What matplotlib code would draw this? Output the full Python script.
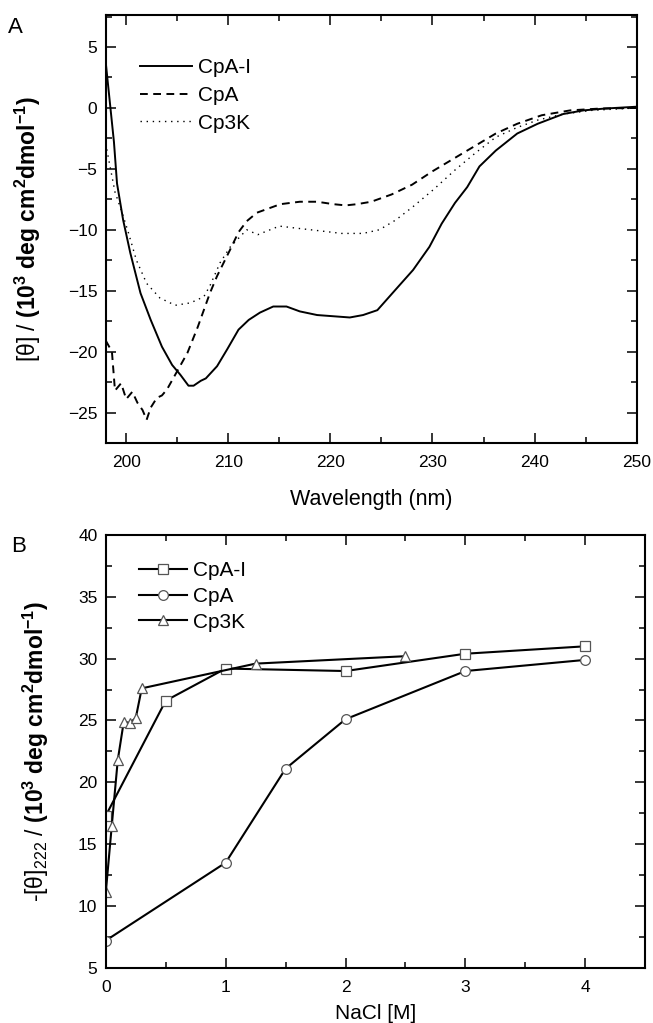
import numpy as np
import matplotlib
matplotlib.use("Agg")
import matplotlib.pyplot as plt
from matplotlib.ticker import MultipleLocator

plt.rcParams['font.family'] = ['Liberation Sans', 'DejaVu Sans']
plt.rcParams['mathtext.fontset'] = 'custom'
plt.rcParams['mathtext.rm'] = 'Liberation Sans'
plt.rcParams['mathtext.it'] = 'Liberation Sans:italic'
plt.rcParams['mathtext.bf'] = 'Liberation Sans:bold'

# ---- panel A: CD spectra ----
wl_cpai = [198.0, 198.8, 199.1, 199.7, 200.4, 201.4, 202.4, 203.5, 204.5, 205.3, 206.1,
           206.6, 207.3, 207.8, 208.9, 209.9, 211.0, 212.0, 213.1, 214.4, 215.7, 217.0,
           218.7, 220.3, 221.9, 223.2, 224.6, 226.4, 228.1, 229.7, 230.9, 232.2, 233.4,
           234.6, 236.2, 238.3, 240.3, 242.8, 244.8, 246.9, 250.0]
th_cpai = [3.7, -2.8, -6.2, -9.2, -11.9, -15.2, -17.4, -19.6, -21.1, -21.9, -22.8,
           -22.8, -22.4, -22.2, -21.2, -19.8, -18.2, -17.4, -16.8, -16.3, -16.3, -16.7,
           -17.0, -17.1, -17.2, -17.0, -16.6, -14.9, -13.3, -11.4, -9.5, -7.8, -6.5,
           -4.8, -3.5, -2.1, -1.3, -0.5, -0.2, -0.05, 0.1]

wl_cpa = [198.0, 198.6, 198.9, 199.5, 200.0, 200.6, 201.1, 201.6, 202.0, 202.4, 203.0,
          203.5, 204.0, 205.0, 206.0, 207.0, 208.2, 208.9, 210.2, 211.0, 211.8, 212.8,
          215.1, 217.0, 218.7, 220.3, 221.5, 222.6, 224.0, 226.0, 228.0, 230.0, 232.0,
          234.0, 236.2, 238.3, 240.7, 243.5, 246.4, 250.0]
th_cpa = [-19.1, -20.0, -23.2, -22.6, -23.9, -23.3, -24.2, -24.8, -25.6, -24.6, -23.8,
          -23.6, -23.1, -21.6, -20.1, -18.0, -15.2, -13.8, -11.6, -10.2, -9.3, -8.6,
          -7.9, -7.7, -7.7, -7.9, -8.0, -7.9, -7.7, -7.1, -6.3, -5.2, -4.2,
          -3.2, -2.1, -1.3, -0.6, -0.2, -0.05, 0.0]

wl_cp3k = [198.1, 198.3, 198.9, 199.6, 200.2, 201.0, 202.0, 203.3, 204.8, 206.3, 207.6,
           208.2, 209.2, 210.2, 211.8, 212.9, 215.0, 217.0, 219.1, 221.1, 223.2, 224.8,
           226.4, 228.1, 230.1, 232.2, 234.2, 236.2, 238.3, 240.3, 242.8, 245.6, 250.0]
th_cp3k = [-3.4, -4.3, -6.9, -8.6, -10.2, -12.5, -14.4, -15.6, -16.2, -16.0, -15.5,
           -14.6, -12.7, -11.4, -10.0, -10.4, -9.7, -9.9, -10.1, -10.3, -10.3, -10.0,
           -9.2, -8.1, -6.7, -5.1, -3.7, -2.4, -1.6, -1.0, -0.5, -0.2, 0.0]

# ---- panel B: NaCl titration ----
nacl_cpai = [0.0, 0.5, 1.0, 2.0, 3.0, 4.0]
val_cpai = [17.3, 26.6, 29.2, 29.0, 30.4, 31.0]
nacl_cpa = [0.0, 1.0, 1.5, 2.0, 3.0, 4.0]
val_cpa = [7.2, 13.5, 21.1, 25.1, 29.0, 29.9]
nacl_cp3k = [0.0, 0.05, 0.1, 0.15, 0.2, 0.25, 0.3, 1.25, 2.5]
val_cp3k = [11.1, 16.5, 21.8, 24.9, 24.8, 25.2, 27.6, 29.6, 30.2]

unit = r'$\mathbf{(10^3\ deg\ cm^2dmol^{-1})}$'

fig = plt.figure(figsize=(6.53, 10.23), dpi=100)
axA = fig.add_axes([0.162, 0.567, 0.813, 0.418])
axB = fig.add_axes([0.162, 0.054, 0.826, 0.423])

lw = 1.4
axA.plot(wl_cpai, th_cpai, color='black', lw=lw, label='CpA-I')
axA.plot(wl_cpa, th_cpa, color='black', lw=lw, dashes=(4.0, 2.8), label='CpA')
axA.plot(wl_cp3k, th_cp3k, color='black', lw=1.0, dashes=(1.0, 3.4), label='Cp3K')
axA.set_xlim(198, 250)
axA.set_ylim(-27.5, 7.6)
axA.xaxis.set_major_locator(MultipleLocator(10))
axA.xaxis.set_minor_locator(MultipleLocator(5))
axA.yaxis.set_major_locator(MultipleLocator(5))
axA.yaxis.set_minor_locator(MultipleLocator(2.5))
axA.set_xlabel('Wavelength (nm)', fontsize=15.5, labelpad=13)
axA.set_ylabel('[θ] / ' + unit, fontsize=16.5)
axA.yaxis.set_label_coords(-0.118, 0.5)
axA.legend(loc='upper left', bbox_to_anchor=(0.064, 0.90), frameon=False, fontsize=15,
           handlelength=2.5, handletextpad=0.3, labelspacing=0.42,
           borderpad=0, borderaxespad=0)

mk = dict(markerfacecolor='white', markeredgecolor='#555555', markeredgewidth=0.9, markersize=7)
axB.plot(nacl_cpai, val_cpai, color='black', lw=1.5, marker='s', label='CpA-I', **mk)
axB.plot(nacl_cpa, val_cpa, color='black', lw=1.5, marker='o', label='CpA', **mk)
axB.plot(nacl_cp3k, val_cp3k, color='black', lw=1.5, marker='^', label='Cp3K', **mk)
axB.set_xlim(0, 4.5)
axB.set_ylim(5, 40)
axB.xaxis.set_major_locator(MultipleLocator(1))
axB.xaxis.set_minor_locator(MultipleLocator(0.5))
axB.yaxis.set_major_locator(MultipleLocator(5))
axB.yaxis.set_minor_locator(MultipleLocator(2.5))
axB.set_xlabel('NaCl [M]', fontsize=15, labelpad=6)
axB.set_ylabel(r'-[θ]$_{\mathit{222}}$ / ' + unit, fontsize=16.5)
axB.yaxis.set_label_coords(-0.101, 0.5)
axB.legend(loc='upper left', bbox_to_anchor=(0.061, 0.94), frameon=False, fontsize=15,
           handlelength=2.3, handletextpad=0.3, labelspacing=0.33,
           borderpad=0, borderaxespad=0)

for ax in (axA, axB):
    ax.tick_params(which='both', direction='in', top=True, right=True, labelsize=12.5, width=1.1)
    ax.tick_params(which='major', length=7)
    ax.tick_params(which='minor', length=4)
    ax.tick_params(axis='x', which='major', pad=9)
    ax.tick_params(axis='y', which='major', pad=6)
    for s in ax.spines.values():
        s.set_linewidth(1.5)

fig.text(0.012, 0.973, 'A', fontsize=16, va='center')
fig.text(0.017, 0.466, 'B', fontsize=16, va='center')

fig.savefig('out.png', dpi=100)
